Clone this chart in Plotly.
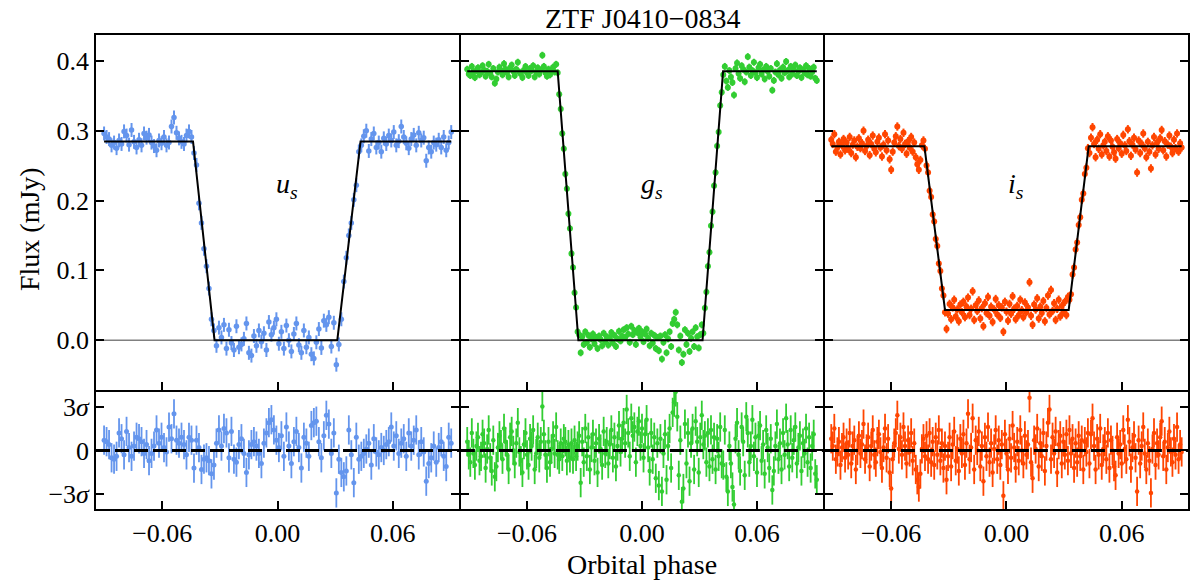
import numpy as np
import plotly.graph_objects as go

# ---------------- data ----------------
# u_s band: orbital phase (units of 1e-4), flux (units of 1e-3 mJy), residuals (units of 0.1 sigma)
u_phase_e4 = [
    -903, -890, -877, -864, -851, -838, -825, -812, -799, -786,
    -773, -760, -747, -734, -721, -708, -695, -682, -669, -656,
    -643, -630, -617, -604, -591, -578, -565, -552, -539, -526,
    -513, -500, -487, -474, -461, -448, -435, -422, -409, -396,
    -383, -370, -357, -344, -331, -318, -305, -292, -279, -266,
    -253, -240, -227, -214, -201, -188, -175, -162, -149, -136,
    -123, -110, -97, -84, -71, -58, -45, -32, -19, -6,
    7, 20, 33, 46, 59, 72, 85, 98, 111, 124,
    137, 150, 163, 176, 189, 202, 215, 228, 241, 254,
    267, 280, 293, 306, 319, 332, 345, 358, 371, 384,
    397, 410, 423, 436, 449, 462, 475, 488, 501, 514,
    527, 540, 553, 566, 579, 592, 605, 618, 631, 644,
    657, 670, 683, 696, 709, 722, 735, 748, 761, 774,
    787, 800, 813, 826, 839, 852, 865, 878, 891, 904]
u_flux_e3 = [
    296, 291, 288, 279, 283, 275, 286, 281, 299, 293,
    280, 301, 284, 276, 287, 279, 296, 290, 294, 283,
    278, 272, 286, 282, 291, 279, 283, 306, 319, 297,
    289, 284, 281, 293, 299, 291,
    268, 251, 196, 168, 131, 106, 74, 30, 14,
    -8, 18, 4, 22, -12, 15, -4, -14, 20, -10,
    -6, 2, 24, -18, -22, 6, -8, 14, -2, 10,
    -14, 26, 8, 18, 30, -5, 12, -12, 21, 0,
    -16, 9, 24, -7, -18, 14, -10, 4, -20, -26,
    -3, 16, -11, 28, 22, 33, -9, 25, -35,
    -6, 30, 84, 118, 150, 168, 201, 222, 270,
    279, 292, 300, 271, 288, 296, 276, 283, 270, 289,
    281, 293, 286, 298, 279, 285, 306, 291, 282, 275,
    288, 294, 279, 297, 286, 290, 257, 276, 270, 283,
    280, 287, 276, 291, 272, 283, 298]
u_resid_e1 = [
    7, 6, 4, -5, -6, -4, 12, 8, -3, 13,
    2, -4, 3, 9, 8, 6, -2, 4, -7, -2,
    3, 14, 5, 9, 2, -1, 16, 8, 25, 7,
    5, 9, 4, -3, 9, 7, -12, 7, 2, -13,
    -6, -5, -7, -16, -10, 5, 14, 3, 15, 12,
    -5, 13, -6, -8, 4, 8, -2, -15, -3, 4,
    6, 3, -2, -9, 5, 12, 19, 21, 14, 7,
    2, 10, -4, 16, 3, -9, 6, 13, 2, -12,
    9, 5, -4, 17, 19, 20, 6, -5, 10, 24,
    18, -2, 12, -29, -6, -15, -18, -14, 14, -3,
    -22, 9, -6, -4, -2, 1, 5, -10, 8, -1,
    -3, 2, 0, 4, 6, 16, 3, 10, -2, 5,
    8, -4, 12, 3, 7, 14, -3, 6, -1, -21,
    -9, -5, 3, -8, 2, 6, -4, -11, 9, 5]
u_flux_err = 0.010

# g_s and i_s bands share the same frame times
gi_phase_e4 = [
    -912, -904, -896, -888, -880, -872, -864, -856, -848, -840,
    -832, -824, -816, -808, -800, -792, -784, -776, -768, -760,
    -752, -744, -736, -728, -720, -712, -704, -696, -688, -680,
    -672, -664, -656, -648, -640, -632, -624, -616, -608, -600,
    -592, -584, -576, -568, -560, -552, -544, -536, -528, -520,
    -512, -504, -496, -488, -480, -472, -464, -456, -448, -440,
    -432, -424, -416, -408, -400, -392, -384, -376, -368, -360,
    -352, -344, -336, -328, -320, -312, -304, -296, -288, -280,
    -272, -264, -256, -248, -240, -232, -224, -216, -208, -200,
    -192, -184, -176, -168, -160, -152, -144, -136, -128, -120,
    -112, -104, -96, -88, -80, -72, -64, -56, -48, -40,
    -32, -24, -16, -8, 0, 8, 16, 24, 32, 40,
    48, 56, 64, 72, 80, 88, 96, 104, 112, 120,
    128, 136, 144, 152, 160, 168, 176, 184, 192, 200,
    208, 216, 224, 232, 240, 248, 256, 264, 272, 280,
    288, 296, 304, 312, 320, 328, 336, 344, 352, 360,
    368, 376, 384, 392, 400, 408, 416, 424, 432, 440,
    448, 456, 464, 472, 480, 488, 496, 504, 512, 520,
    528, 536, 544, 552, 560, 568, 576, 584, 592, 600,
    608, 616, 624, 632, 640, 648, 656, 664, 672, 680,
    688, 696, 704, 712, 720, 728, 736, 744, 752, 760,
    768, 776, 784, 792, 800, 808, 816, 824, 832, 840,
    848, 856, 864, 872, 880, 888, 896, 904, 912]
g_flux_e3 = [
    388, 381, 379, 392, 384, 376, 386, 390, 380, 383,
    393, 387, 378, 385, 395, 382, 377, 389, 368, 374,
    384, 391, 386, 380, 396, 388, 383, 377, 390, 394,
    385, 379, 388, 398, 384, 381, 376, 387, 392, 383,
    379, 389, 386, 393, 377, 384, 390, 381, 387, 408,
    392, 383, 378, 388, 380, 385, 391, 384, 395,
    383, 352, 331, 296, 274, 238, 217, 181, 160, 124, 104, 68, 47, 12,
    8, -18, 5, -6, 12, -3, 7, -10, 2, 9,
    -5, 4, -12, 6, 1, -8, 10, -2, 5, -7,
    3, 11, -4, 7, -9, 2, 13, -1, 6, 15,
    4, 18, 9, -3, 20, 8, 14, -6, 11, 17,
    5, 12, -2, 9, 16, 3, -8, 10, -4, 7,
    -12, 4, -15, 6, -27, -3, 8, -18, 2, 12,
    -9, 24, 30, 40, 22, -14, 6, -32, -20, 15,
    -6, 10, -16, 3, 12, -9, 18, 5, -11, 8,
    22,
    10, 46, 69, 106, 126, 164, 184, 221, 240, 278, 298, 336, 355,
    380, 392, 371, 362, 386, 377, 369, 351, 389, 397,
    382, 375, 393, 388, 370, 384, 406, 391, 379, 386,
    398, 383, 376, 390, 395, 381, 387, 374, 392, 385,
    378, 389, 358, 372, 384, 396, 380, 387, 375, 391,
    383, 399, 386, 377, 392, 381, 388, 394, 379, 385,
    390, 376, 387, 383, 393, 380, 389, 378, 384, 391,
    375, 372]
g_resid_e1 = [
    6, -3, -8, 12, -2, -10, 3, 9, -7, -4,
    11, 5, -12, 1, 14, -5, -14, 7, -18, -11,
    2, 10, 4, -6, 15, 6, -3, -13, 9, 13,
    0, -9, 5, 19, -1, -7, -15, 4, 12, -3,
    -10, 8, 3, 14, -13, -2, 9, -5, 6, 30,
    11, -3, -12, 6, -8, 1, 10, -2, 16, -3,
    -6, 5, -4, 8, 6, -7, 4, -5, 5, -6,
    7, -4, 3, 10, -22, 6, -8, 15, -4, 9,
    -13, 2, 11, -7, 5, -15, 8, 1, -10, 13,
    -2, 6, -9, 4, 14, -5, 9, -11, 3, 17,
    -1, 8, 19, 5, 28, 12, -4, 22, 10, 16,
    -8, 13, 20, 3, 15, -5, 11, 21, 2, -14,
    12, -6, 9, -19, 5, -24, 8, -28, -2, 11,
    -20, 3, 15, -12, 26, 33, 40, 23, -17, 7,
    -35, -26, 18, -9, 12, -21, 5, 15, -13, 20,
    6, -15, 9, 24, 4, 10, -8, 12, -11, 14,
    -6, 9, -13, 8, -4, 16, -9, -10, 14, -18,
    -28, 3, -9, -25, -37, 8, 19, -3, -14, 16,
    6, -17, 23, 12, -8, 3, 21, -4, 9, -15,
    10, 17, -7, 4, -16, 14, 2, -12, 8, -27,
    -14, 3, 18, -6, 5, -13, 12, -3, 22, 4,
    -11, 14, -5, 7, 16, -9, 2, 10, -14, 5,
    -2, 15, -8, 9, -12, 3, 11, -16, -20]
g_flux_err = 0.005

i_flux_e3 = [
    287, 281, 295, 270, 276, 284, 266, 279, 288, 272,
    283, 274, 291, 268, 280, 286, 262, 277, 289, 275,
    282, 300, 271, 278, 287, 265, 281, 293, 274, 269,
    284, 290, 276, 263, 280, 295, 272, 286, 259, 244,
    270, 283, 292, 306, 278, 288, 274, 297, 281, 267,
    285, 276, 291, 270, 283, 262, 252, 244, 258, 279,
    286,
    274, 250, 240, 214, 205, 180, 170, 145, 135, 110, 99, 74, 64, 40,
    16, 38, 52, 30, 47, 58, 34, 44, 27, 51,
    40, 55, 33, 48, 61, 36, 45, 70, 29, 50,
    42, 57, 31, 46, 20, 53, 39, 62, 35, 48,
    26, 44, 59, 37, 50, 32, 47, 12, 55, 41,
    28, 52, 38, 63, 45, 30, 49, 36, 58, 43,
    33, 54, 40, 47, 83, 35, 22, 51, 44, 60,
    31, 48, 39, 56, 27, 46, 64, 37, 72, 42,
    53, 29, 45, 58, 34, 49, 40, 55, 36, 62,
    58, 66, 94, 104, 130, 140, 165, 176, 201, 210, 238, 247, 275,
    268, 290, 305, 281, 262, 287, 274, 295, 266, 279,
    284, 271, 292, 263, 286, 277, 269, 260, 288, 275,
    282, 267, 294, 279, 271, 302, 285, 264, 280, 290,
    273, 240, 286, 268, 281, 296, 275, 262, 284, 270,
    246, 279, 291, 266, 283, 274, 289, 301, 272, 285,
    263, 280, 293, 277, 268, 287, 275, 296, 270, 282,
    276]
i_resid_e1 = [
    8, 3, 15, -6, -1, 6, -10, 2, 9, -5,
    5, -3, 12, -9, 3, 7, -13, 0, 10, -2,
    4, 18, -6, 1, 9, -11, 3, 14, -3, -8,
    6, 11, -1, -12, 2, 15, -5, 8, -15, -26,
    -6, 5, 12, 24, 1, 9, -3, 16, 3, -9,
    7, -1, 12, -7, 5, -13, -20, -25, -16, 1,
    8, -4, 10, -6, 12, -8, 6, -10, 9, -3,
    14, -7, 5, -12, 3, -20, -4, 9, -11, 4,
    13, -7, 1, -14, 8, -2, 11, -10, 5, 25,
    -6, 2, 22, -13, 7, 0, 13, -11, 3, -21,
    9, -4, 16, -8, 5, -15, 1, 14, -6, 7,
    -10, 4, -31, 11, -2, -13, 8, -5, 17, 2,
    -12, 6, -7, 14, 0, -9, 10, -3, 4, 36,
    -8, -19, 7, 1, 15, -11, 5, -4, 12, -14,
    3, 19, 28, -6, 9, -2, 13, -15, 4, 10,
    -9, 6, -3, 11, -7, 14, -2, 8, -12, 5,
    -8, 10, -4, 7, -13, 6, -1, 12, -9, 11,
    22, 3, -13, 8, -3, 15, -10, 1, 6, -6,
    12, -12, 7, 0, -11, -17, 9, -2, 4, -9,
    14, 1, -6, 21, 6, -12, 2, 10, -5, -28,
    7, -9, 3, 16, -2, -13, 5, -7, -29, 1,
    12, -10, 5, -3, 9, 20, -4, 6, -13, 2,
    13, -1, -8, 8, -3, 16, -6, 4, -1]
i_flux_err = 0.006
resid_err = 1.0

# model light curves (vertices)
u_model_phase = [-0.0903, -0.0440, -0.0328, 0.0311, 0.0432, 0.0904]
u_model_flux = [0.2847, 0.2847, 0.0, 0.0, 0.2847, 0.2847]
g_model_phase = [-0.0912, -0.0440, -0.0332, 0.0316, 0.0423, 0.0912]
g_model_flux = [0.385, 0.385, 0.0, 0.0, 0.385, 0.385]
i_model_phase = [-0.0912, -0.0427, -0.0320, 0.0324, 0.0428, 0.0912]
i_model_flux = [0.2776, 0.2776, 0.0433, 0.0433, 0.2776, 0.2776]

band_labels = ["<i>u<sub>s</sub></i>", "<i>g<sub>s</sub></i>", "<i>i<sub>s</sub></i>"]
band_colors = ["#6495ED", "#32CD32", "#FF4500"]
title_text = "ZTF J0410\u22120834"
x_title = "Orbital phase"
y_title = "Flux (mJy)"
phase_ticks = [-0.06, 0.0, 0.06]
phase_tick_text = ["\u22120.06", "0.00", "0.06"]
flux_ticks = [0.0, 0.1, 0.2, 0.3, 0.4]
flux_tick_text = ["0.0", "0.1", "0.2", "0.3", "0.4"]
resid_ticks = [-3, 0, 3]
resid_tick_text = ["\u22123<i>\u03c3</i>", "0", "3<i>\u03c3</i>"]

# ---------------- checks & unit conversion ----------------
assert len(u_phase_e4) == len(u_flux_e3) == len(u_resid_e1), (len(u_phase_e4), len(u_flux_e3), len(u_resid_e1))
assert len(gi_phase_e4) == len(g_flux_e3) == len(g_resid_e1) == len(i_flux_e3) == len(i_resid_e1), (
    len(gi_phase_e4), len(g_flux_e3), len(g_resid_e1), len(i_flux_e3), len(i_resid_e1))

bands = [
    dict(phase=np.array(u_phase_e4) * 1e-4, flux=np.array(u_flux_e3) * 1e-3,
         resid=np.array(u_resid_e1) * 0.1, err=u_flux_err,
         mph=u_model_phase, mfl=u_model_flux, msize=5.5, esize=5.0),
    dict(phase=np.array(gi_phase_e4) * 1e-4, flux=np.array(g_flux_e3) * 1e-3,
         resid=np.array(g_resid_e1) * 0.1, err=g_flux_err,
         mph=g_model_phase, mfl=g_model_flux, msize=6.0, esize=4.5),
    dict(phase=np.array(gi_phase_e4) * 1e-4, flux=np.array(i_flux_e3) * 1e-3,
         resid=np.array(i_resid_e1) * 0.1, err=i_flux_err,
         mph=i_model_phase, mfl=i_model_flux, msize=6.0, esize=4.5),
]

# ---------------- figure ----------------
W, H = 1191, 584
FONT = "Liberation Serif"
LW = 1.8
h = LW / 2
col_px = [(96, 460 - h), (460 + h, 824 - h), (824 + h, 1188)]
top_px = (35, 391 - h)
bot_px = (391 + h, 509)

def xdom(a, b):
    return [a / W, b / W]

def ydom(top, bottom):
    return [(H - bottom) / H, (H - top) / H]

fig = go.Figure()
layout = dict(width=W, height=H, margin=dict(l=0, r=0, t=0, b=0),
              paper_bgcolor="white", plot_bgcolor="white", showlegend=False,
              font=dict(family=FONT, size=26, color="black"))
shapes = []
annotations = []

XR = [-0.0945, 0.0945]
for c, b in enumerate(bands):
    top_i = c + 1
    bot_i = c + 4
    xt = "x" if top_i == 1 else f"x{top_i}"
    yt = "y" if top_i == 1 else f"y{top_i}"
    xb, yb = f"x{bot_i}", f"y{bot_i}"
    color = band_colors[c]

    fig.add_trace(go.Scatter(
        x=b["phase"], y=b["flux"], mode="markers", xaxis=xt, yaxis=yt,
        marker=dict(size=b["msize"], color=color, line=dict(width=0)),
        error_y=dict(type="constant", value=b["err"], thickness=2.0, width=0, color=color)))
    fig.add_trace(go.Scatter(
        x=b["mph"], y=b["mfl"], mode="lines", xaxis=xt, yaxis=yt,
        line=dict(color="black", width=2)))
    fig.add_trace(go.Scatter(
        x=b["phase"], y=b["resid"], mode="markers", xaxis=xb, yaxis=yb,
        marker=dict(size=b["esize"], color=color, line=dict(width=0)),
        error_y=dict(type="constant", value=resid_err, thickness=1.8, width=0, color=color)))

    common_x = dict(range=XR, tickvals=phase_ticks, ticktext=phase_tick_text,
                    ticks="inside", ticklen=8, tickwidth=1.6, tickcolor="black",
                    showline=True, linecolor="black", linewidth=LW, mirror=True,
                    showgrid=False, zeroline=False,
                    tickfont=dict(family=FONT, size=26))
    common_y = dict(ticks="inside", ticklen=8, tickwidth=1.6, tickcolor="black",
                    showline=True, linecolor="black", linewidth=LW, mirror="ticks",
                    showgrid=False, zeroline=False,
                    tickfont=dict(family=FONT, size=26))

    layout["xaxis" if top_i == 1 else f"xaxis{top_i}"] = dict(
        common_x, domain=xdom(*col_px[c]), anchor=yt, showticklabels=False)
    layout["yaxis" if top_i == 1 else f"yaxis{top_i}"] = dict(
        common_y, domain=ydom(*top_px), anchor=xt, range=[-0.0714, 0.437],
        tickvals=flux_ticks, ticktext=flux_tick_text, showticklabels=(c == 0))
    layout[f"xaxis{bot_i}"] = dict(
        common_x, domain=xdom(*col_px[c]), anchor=yb, showticklabels=True)
    layout[f"yaxis{bot_i}"] = dict(
        common_y, domain=ydom(*bot_px), anchor=xb, range=[-4, 4],
        tickvals=resid_ticks, ticktext=resid_tick_text, showticklabels=(c == 0))

    shapes.append(dict(type="line", xref=f"{xt} domain", yref=yt, x0=0, x1=1, y0=0, y1=0,
                       line=dict(color="#808080", width=1.4), layer="below"))
    shapes.append(dict(type="line", xref=f"{xb} domain", yref=yb, x0=0, x1=1, y0=0, y1=0,
                       line=dict(color="black", width=3, dash="14px,5px"), layer="above"))
    annotations.append(dict(xref=xt, yref=yt, x=0.005, y=0.222, text=band_labels[c],
                            showarrow=False, font=dict(family=FONT, size=28)))

annotations.append(dict(xref="paper", yref="paper", x=642 / W, y=(H - 18) / H,
                        text=title_text, showarrow=False, xanchor="center", yanchor="middle",
                        font=dict(family=FONT, size=28)))
annotations.append(dict(xref="paper", yref="paper", x=642 / W, y=(H - 564) / H,
                        text=x_title, showarrow=False, xanchor="center", yanchor="middle",
                        font=dict(family=FONT, size=28)))
annotations.append(dict(xref="paper", yref="paper", x=30 / W, y=(H - 229) / H,
                        text=y_title, showarrow=False, textangle=-90,
                        xanchor="center", yanchor="middle",
                        font=dict(family=FONT, size=28)))
layout["shapes"] = shapes
layout["annotations"] = annotations
fig.update_layout(**layout)
fig.write_html("out.html")
